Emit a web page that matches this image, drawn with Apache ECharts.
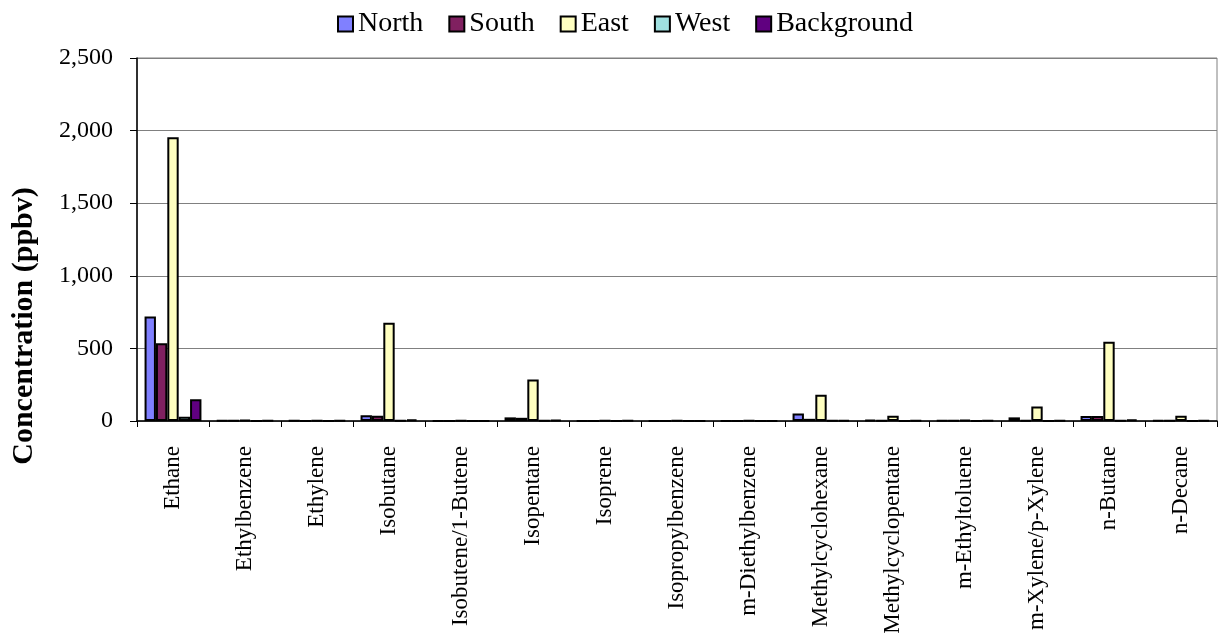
<!DOCTYPE html>
<html>
<head>
<meta charset="utf-8">
<script src="https://cdn.jsdelivr.net/npm/echarts@6/dist/echarts.min.js"></script>
<style>
html,body{margin:0;padding:0;background:#fff;}
#chart{width:1225px;height:643px;}
</style>
</head>
<body>
<div id="chart"></div>
<script>
const categories = ['Ethane','Ethylbenzene','Ethylene','Isobutane','Isobutene/1-Butene','Isopentane','Isoprene','Isopropylbenzene','m-Diethylbenzene','Methylcyclohexane','Methylcyclopentane','m-Ethyltoluene','m-Xylene/p-Xylene','n-Butane','n-Decane'];
const seriesNames = ['North','South','East','West','Background'];
const north = [720, 2, 2, 40, 1, 25, 1, 1, 1, 52, 8, 2, 25, 35, 5];
const south = [535, 2, 1, 37, 1, 22, 1, 1, 1, 15, 3, 2, 5, 35, 2];
const east = [1955, 8, 2, 677, 2, 285, 2, 2, 2, 181, 37, 8, 100, 545, 37];
const west = [30, 1, 1, 2, 1, 2, 1, 1, 1, 2, 1, 1, 1, 2, 1];
const background = [150, 2, 2, 12, 1, 8, 2, 1, 1, 5, 2, 2, 2, 10, 3];
const yTicks = [0, 500, 1000, 1500, 2000, 2500];
const yTitle = 'Concentration (ppbv)';

const colors = ['#8080FF','#802060','#FFFFC0','#A0E0E0','#600080'];
const values = [north, south, east, west, background];
const FONT = "'Liberation Serif','Times New Roman',serif";

const chart = echarts.init(document.getElementById('chart'), null, {renderer:'canvas'});
chart.setOption({
  animation: false,
  backgroundColor: '#ffffff',
  legend: {
    top: 5, left: 332,
    itemWidth: 15, itemHeight: 15, itemGap: 25,
    textStyle: {fontFamily: FONT, fontSize: 28, color: '#000'},
    data: seriesNames.map((n,i)=>({name:n, icon:'rect', itemStyle:{color:colors[i], borderColor:'#000', borderWidth:2}}))
  },
  grid: {left: 137, right: 8, top: 58, bottom: 222, show: true, borderColor: '#808080', borderWidth: 1, containLabel: false},
  xAxis: {
    type: 'category', data: categories,
    axisLine: {lineStyle: {color: '#000', width: 1.5}},
    axisTick: {show: true, inside: false, length: 6, alignWithLabel: false, lineStyle:{color:'#000'}},
    axisLabel: {rotate: 90, interval: 0, margin: 25, fontFamily: FONT, fontSize: 23, color: '#000'}
  },
  yAxis: {
    type: 'value', min: yTicks[0], max: yTicks[yTicks.length-1], interval: 500,
    axisLine: {show: true, lineStyle: {color: '#000', width: 1.5}},
    axisTick: {show: true, inside: false, length: 7, lineStyle:{color:'#000'}},
    splitLine: {show: true, lineStyle: {color: '#808080', width: 1}},
    axisLabel: {margin: 24, fontFamily: FONT, fontSize: 24, color: '#000',
      formatter: v => v.toLocaleString('en-US')}
  },
  graphic: [{
    type: 'text', x: 24, y: 326, rotation: Math.PI/2,
    style: {text: yTitle, font: "bold 30px 'Liberation Serif','Times New Roman',serif", fill: '#000', align: 'center', verticalAlign: 'middle'}
  }],
  series: seriesNames.map((n,i)=>({
    name: n, type: 'bar', data: values[i],
    barGap: '0%', barCategoryGap: '21%',
    itemStyle: {color: colors[i], borderColor: '#000', borderWidth: 2}
  }))
});
</script>
</body>
</html>
